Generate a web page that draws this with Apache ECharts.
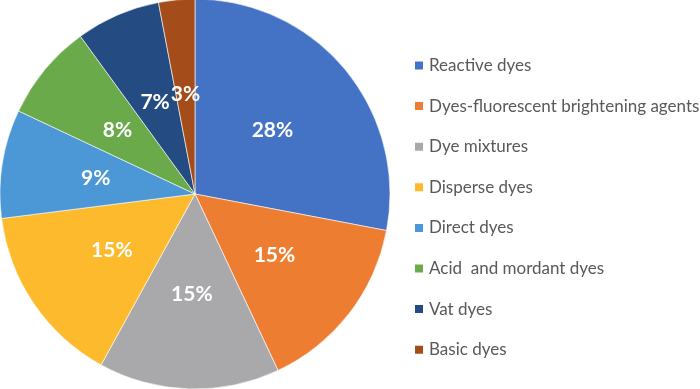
<!DOCTYPE html>
<html>
<head>
<meta charset="utf-8">
<script src="https://cdn.jsdelivr.net/npm/echarts@6/dist/echarts.min.js"></script>
<style>
  html, body { margin: 0; padding: 0; background: #fff; }
  #chart { width: 700px; height: 389px; }
</style>
</head>
<body>
<div id="chart"></div>
<script>
const categories = [
  "Reactive dyes",
  "Dyes-fluorescent brightening agents",
  "Dye mixtures",
  "Disperse dyes",
  "Direct dyes",
  "Acid  and mordant dyes",
  "Vat dyes",
  "Basic dyes",
];
const shares = [28, 15, 15, 15, 9, 8, 7, 3];
const colors = ["#4472C4", "#ED7D31", "#A9A9AC", "#FDBA2C", "#4C97D6", "#6BAA4B", "#244B82", "#A44C1A"];

const chart = echarts.init(document.getElementById("chart"));
chart.setOption({
  animation: false,
  color: colors,
  legend: {
    orient: "vertical",
    left: 413,
    top: 57,
    padding: 0,
    itemWidth: 10,
    itemHeight: 10,
    itemGap: 23.6,
    icon: "rect",
    data: categories,
    textStyle: {
      fontFamily: "Lato",
      fontSize: 17,
      lineHeight: 17,
      color: "#595959",
    },
  },
  series: [
    {
      type: "pie",
      center: [195, 194],
      radius: 195,
      startAngle: 90,
      clockwise: true,
      itemStyle: { borderColor: "#fff", borderWidth: 0.6 },
      label: {
        position: "inside",
        formatter: "{c}%",
        color: "#fff",
        fontFamily: "Lato",
        fontWeight: "bold",
        fontSize: 21,
      },
      labelLine: { show: false },
      emphasis: { disabled: true },
      data: categories.map((name, i) => ({ name: name, value: shares[i] })),
    },
  ],
});
</script>
</body>
</html>
